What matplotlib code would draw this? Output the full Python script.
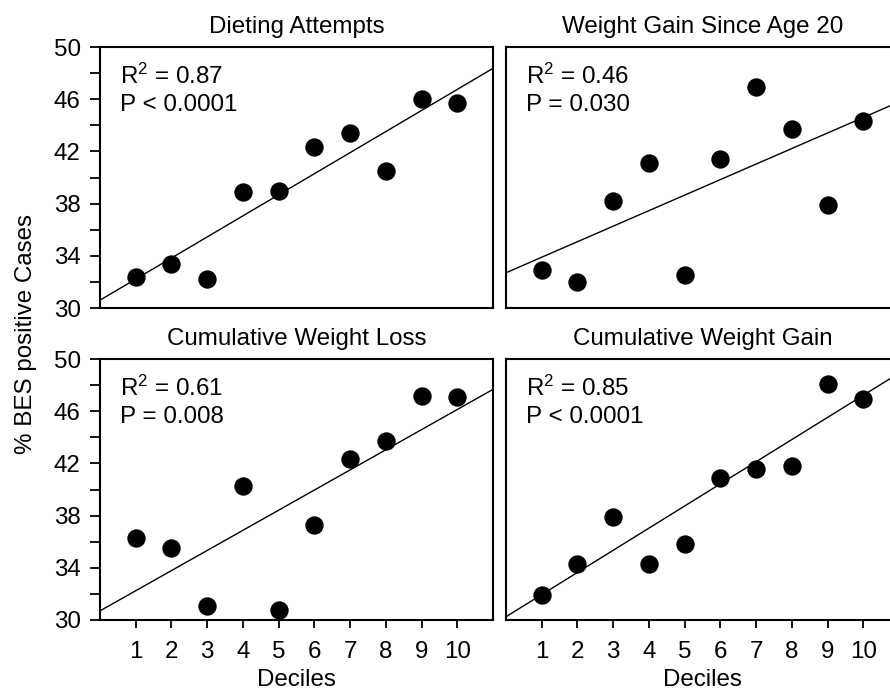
import matplotlib
matplotlib.use("Agg")
import matplotlib.pyplot as plt
import numpy as np

plt.rcParams['font.family'] = ['Liberation Sans', 'DejaVu Sans']
plt.rcParams['mathtext.fontset'] = 'custom'
plt.rcParams['mathtext.rm'] = 'Liberation Sans'
plt.rcParams['mathtext.default'] = 'regular'

# ---- data ----
deciles = [1, 2, 3, 4, 5, 6, 7, 8, 9, 10]
titles = ["Dieting Attempts", "Weight Gain Since Age 20",
          "Cumulative Weight Loss", "Cumulative Weight Gain"]
dieting_attempts = [32.4, 33.4, 32.2, 38.9, 39.0, 42.3, 43.4, 40.5, 46.0, 45.7]
weight_gain_age20 = [32.9, 32.0, 38.2, 41.1, 32.5, 41.4, 46.9, 43.7, 37.9, 44.3]
cum_weight_loss = [36.3, 35.5, 31.1, 40.3, 30.8, 37.3, 42.3, 43.7, 47.2, 47.1]
cum_weight_gain = [31.9, 34.3, 37.9, 34.3, 35.8, 40.9, 41.6, 41.8, 48.1, 46.9]
fit_intercepts = [30.6, 32.7, 30.7, 30.25]
fit_slopes = [1.615, 1.19, 1.543, 1.697]
r2_labels = ["0.87", "0.46", "0.61", "0.85"]
p_labels = ["P < 0.0001", "P = 0.030", "P = 0.008", "P < 0.0001"]
series = [dieting_attempts, weight_gain_age20, cum_weight_loss, cum_weight_gain]

W, H = 890, 692
fig = plt.figure(figsize=(W / 100, H / 100), dpi=100)
FS = 17.4

# axes positions in pixels: (left, top, right, bottom)
boxes = [(100, 47, 493, 308), (506, 47, 899, 308),
         (100, 359, 493, 620), (506, 359, 899, 620)]

for i, (l, t, r, b) in enumerate(boxes):
    ax = fig.add_axes([l / W, 1 - b / H, (r - l) / W, (b - t) / H])
    ax.set_xlim(0, 11)
    ax.set_ylim(30, 50)
    xs = np.array([0, 11])
    ax.plot(xs, fit_intercepts[i] + fit_slopes[i] * xs, color='black', lw=1.0, zorder=2)
    ax.scatter(deciles, series[i], s=175, color='black', zorder=3, linewidths=0)
    for sp in ax.spines.values():
        sp.set_linewidth(1.5)
    ax.set_title(titles[i], fontsize=FS, pad=10)
    ax.text(0.05, 0.858, "R$^{2}$ = " + r2_labels[i], transform=ax.transAxes,
            fontsize=FS, va='baseline', ha='left')
    ax.text(0.05, 0.753, p_labels[i], transform=ax.transAxes,
            fontsize=FS, va='baseline', ha='left')
    # y ticks only on left panels
    if i in (0, 2):
        ax.set_yticks([30, 34, 38, 42, 46, 50])
        ax.set_yticks([32, 36, 40, 44, 48], minor=True)
        ax.tick_params(axis='y', which='both', direction='out', length=7,
                       width=1.3, labelsize=FS, pad=7)
    else:
        ax.set_yticks([])
        ax.set_yticks([], minor=True)
    # x ticks only on bottom panels
    if i in (2, 3):
        ax.set_xticks(deciles)
        ax.tick_params(axis='x', direction='out', length=6, width=1.3,
                       labelsize=FS, pad=9)
        ax.set_xlabel("Deciles", fontsize=FS, labelpad=4.5)
    else:
        ax.set_xticks([])

fig.text(26 / W, 1 - 334 / H, "% BES positive Cases", rotation=90,
         ha='center', va='center', fontsize=FS)

fig.savefig("out.png", dpi=100)
